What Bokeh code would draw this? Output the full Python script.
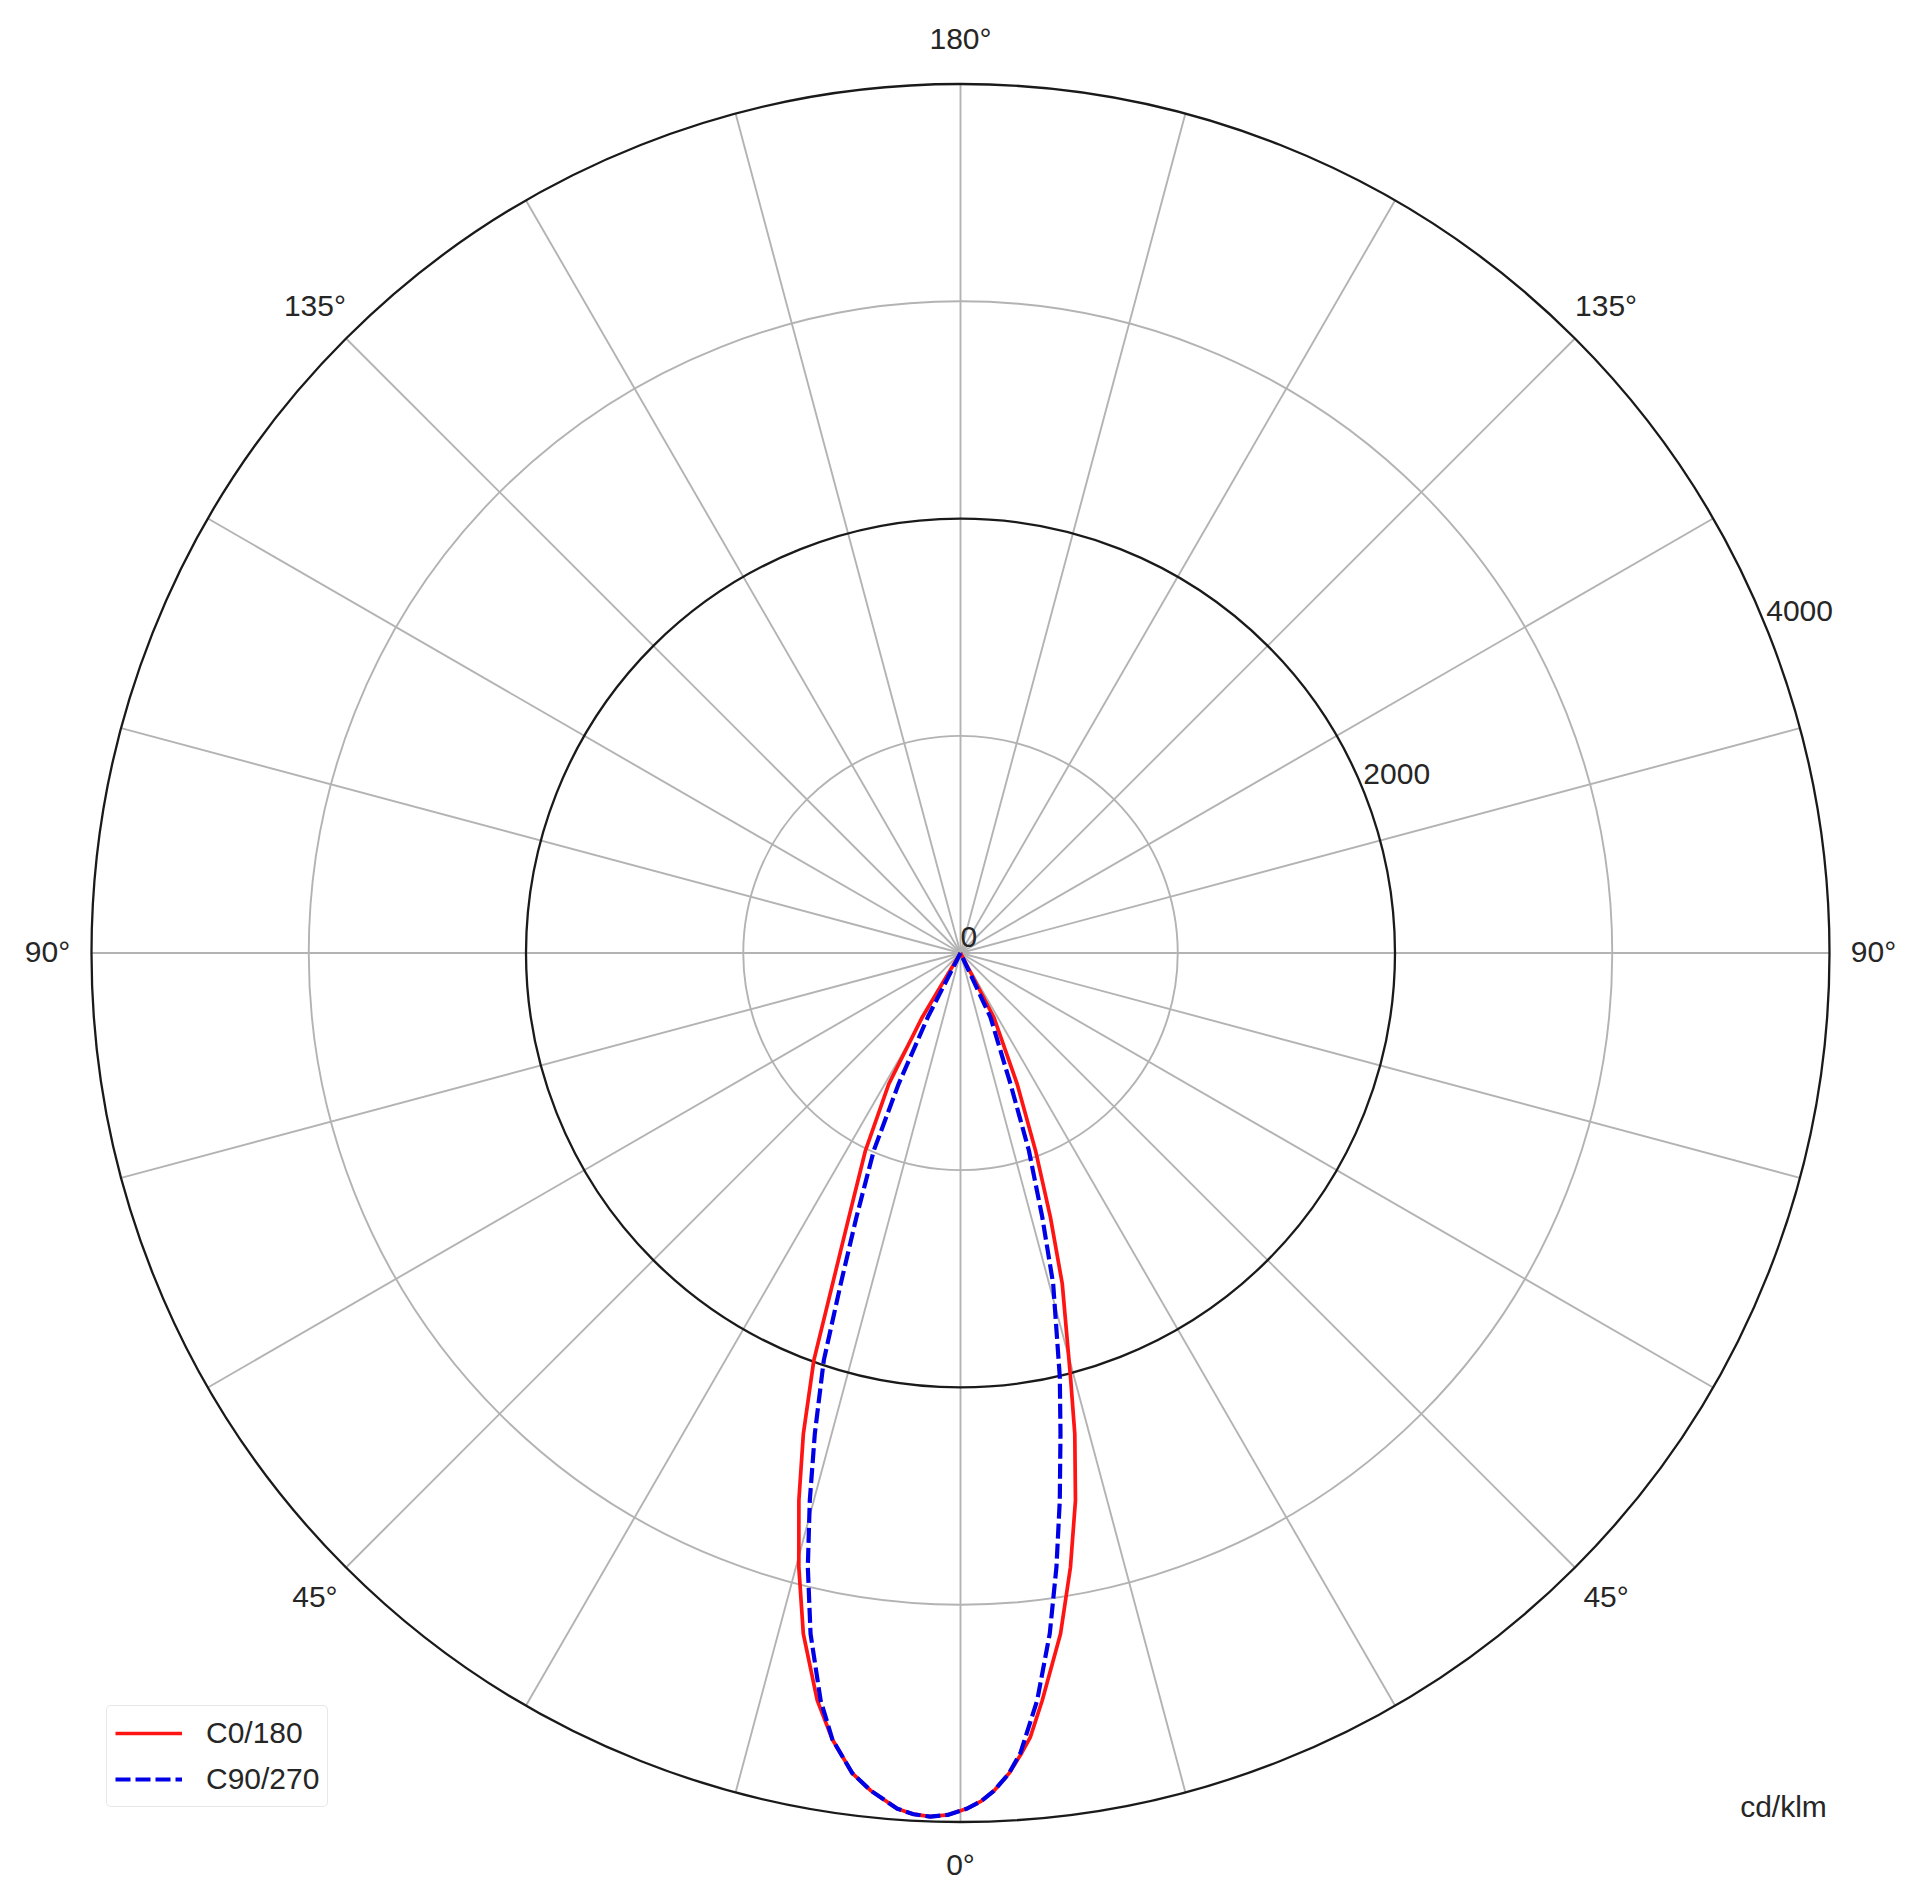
import numpy as np
from bokeh.plotting import figure
from bokeh.models import Range1d, Legend, LegendItem, ColumnDataSource
from bokeh.embed import file_html
from bokeh.resources import INLINE
from bokeh.core.properties import value

# ---------------- data (cd/klm; gamma in degrees, negative = left half) ----------------
gamma_c0_180 = [-90, -33, -30.8, -28.7, -25.7, -22.9, -19.8, -18.1, -16.45, -14.75, -13.0,
                -10.85, -9.25, -7.52, -6.13, -4.22, -3.12, -2.0, -0.86, 0.45, 1.4, 2.28,
                3.37, 4.3, 5.08, 6.24, 8.36, 10.15, 11.86, 13.37, 14.54, 17.1, 18.8, 20.8,
                23.4, 27.4, 29, 90]
c0_180 = [0, 0, 344, 687, 1009, 1320, 1993, 2328, 2627, 2923, 3216,
          3503, 3668, 3808, 3877, 3950, 3970, 3978, 3968, 3938, 3905, 3860,
          3784, 3700, 3625, 3461, 3167, 2872, 2575, 2275, 2017, 1593, 1284, 972,
          656, 333, 0, 0]

gamma_c90_270 = [-90, -29, -27.0, -25.3, -23.7, -21.5, -19.9, -18.55, -16.86, -15.39, -13.96,
                 -12.42, -10.6, -9.25, -7.52, -6.13, -4.22, -3.12, -2.0, -0.86, 0.45, 1.4,
                 2.28, 3.37, 4.3, 5.86, 7.47, 8.88, 10.28, 11.75, 13.18, 15.65, 17.2, 19.1,
                 20.9, 25.0, 26.5, 90]
c90_270 = [0, 0, 331, 666, 993, 1307, 1620, 1978, 2312, 2614, 2913,
           3209, 3500, 3668, 3808, 3877, 3950, 3970, 3978, 3968, 3938, 3905,
           3860, 3784, 3690, 3458, 3160, 2861, 2561, 2260, 2005, 1581, 1273, 962,
           645, 326, 0, 0]
series_names = ["C0/180", "C90/270"]

ring_values = [1000, 2000, 3000, 4000]
ring_major = [False, True, False, True]
r_label_values = [0, 2000, 4000]
r_label_texts = ["0", "2000", "4000"]
spoke_angles = list(range(0, 360, 15))
theta_label_angles = [0, 45, 90, 135, 180, -45, -90, -135]
theta_label_texts = ["0°", "45°", "90°", "135°", "180°", "45°", "90°", "135°"]
unit_label = "cd/klm"

# ---------------- layout ----------------
R_MAX = 4000
R_PX = 869.0
k = R_PX / R_MAX           # px per unit
CX, CY = 960.0, 952.5      # page px of the pole
W, H = 1900, 1884
FX, FY = 0, 0              # figure offset in page

def page_to_data(px, py):
    return (px - CX) / k, (CY - py) / k

FONT = "Liberation Sans"
TXT = "#262626"

p = figure(width=W, height=H, output_backend="svg", toolbar_location=None,
           x_range=Range1d((FX - CX) / k, (FX + W - CX) / k),
           y_range=Range1d((CY - (FY + H)) / k, (CY - FY) / k),
           min_border=0, background_fill_color="white", border_fill_color="white")
p.outline_line_color = None
p.axis.visible = False
p.grid.visible = False

# spokes
sa = np.radians(spoke_angles)
p.segment(x0=0, y0=0, x1=R_MAX * np.sin(sa), y1=-R_MAX * np.cos(sa),
          line_color="#b3b3b3", line_width=1.9)

# rings
ring_src = ColumnDataSource(dict(
    r=ring_values,
    color=["#1a1a1a" if m else "#b3b3b3" for m in ring_major],
    lw=[2.3 if m else 1.9 for m in ring_major]))
p.circle(x=0, y=0, radius="r", source=ring_src, fill_color=None,
         line_color="color", line_width="lw")

# curves
def to_xy(g, v):
    g = np.radians(np.array(g, dtype=float))
    v = np.array(v, dtype=float)
    return v * np.sin(g), -v * np.cos(g)

x0, y0 = to_xy(gamma_c0_180, c0_180)
x1, y1 = to_xy(gamma_c90_270, c90_270)
r_red = p.line(x0, y0, line_color="#ff1414", line_width=3.7, line_join="round")
r_blue = p.line(x1, y1, line_color="#0000e6", line_width=4.2, line_dash="15 5",
                line_join="round")

# theta labels
ta = np.radians(theta_label_angles)
RL = 913.0 / k
p.text(x=RL * np.sin(ta), y=-RL * np.cos(ta) + 2.0 / k, text=theta_label_texts,
       text_font=value(FONT), text_font_size=value("30px"), text_color=TXT,
       text_align="center", text_baseline="middle")

# radial labels (~22 deg above east)
ra = np.radians(22.0)
rv = np.array(r_label_values, dtype=float)
p.text(x=rv * np.cos(ra), y=rv * np.sin(ra) + 6.0 / k, text=r_label_texts,
       text_font=value(FONT), text_font_size=value("30px"), text_color=TXT,
       text_align="left", text_baseline="bottom")

# unit label
ux, uy = page_to_data(1783, 1806)
p.text(x=[ux], y=[uy], text=[unit_label], text_font=value(FONT),
       text_font_size=value("30px"), text_color=TXT,
       text_align="center", text_baseline="middle")

legend = Legend(items=[LegendItem(label=series_names[0], renderers=[r_red]),
                       LegendItem(label=series_names[1], renderers=[r_blue])],
                location=(106, 77))
legend.label_text_font = FONT
legend.label_text_font_size = "30px"
legend.label_text_color = TXT
legend.glyph_width = 67
legend.glyph_height = 38
legend.label_height = 38
legend.label_standoff = 24
legend.spacing = 8
legend.padding = 8
legend.margin = 0
legend.border_line_color = "#cfcfcf"
legend.border_line_width = 1.5
legend.background_fill_color = "white"
legend.background_fill_alpha = 0.9
try:
    legend.border_radius = 5
except Exception:
    pass
p.add_layout(legend)

open("out.html", "w").write(file_html(p, INLINE))
